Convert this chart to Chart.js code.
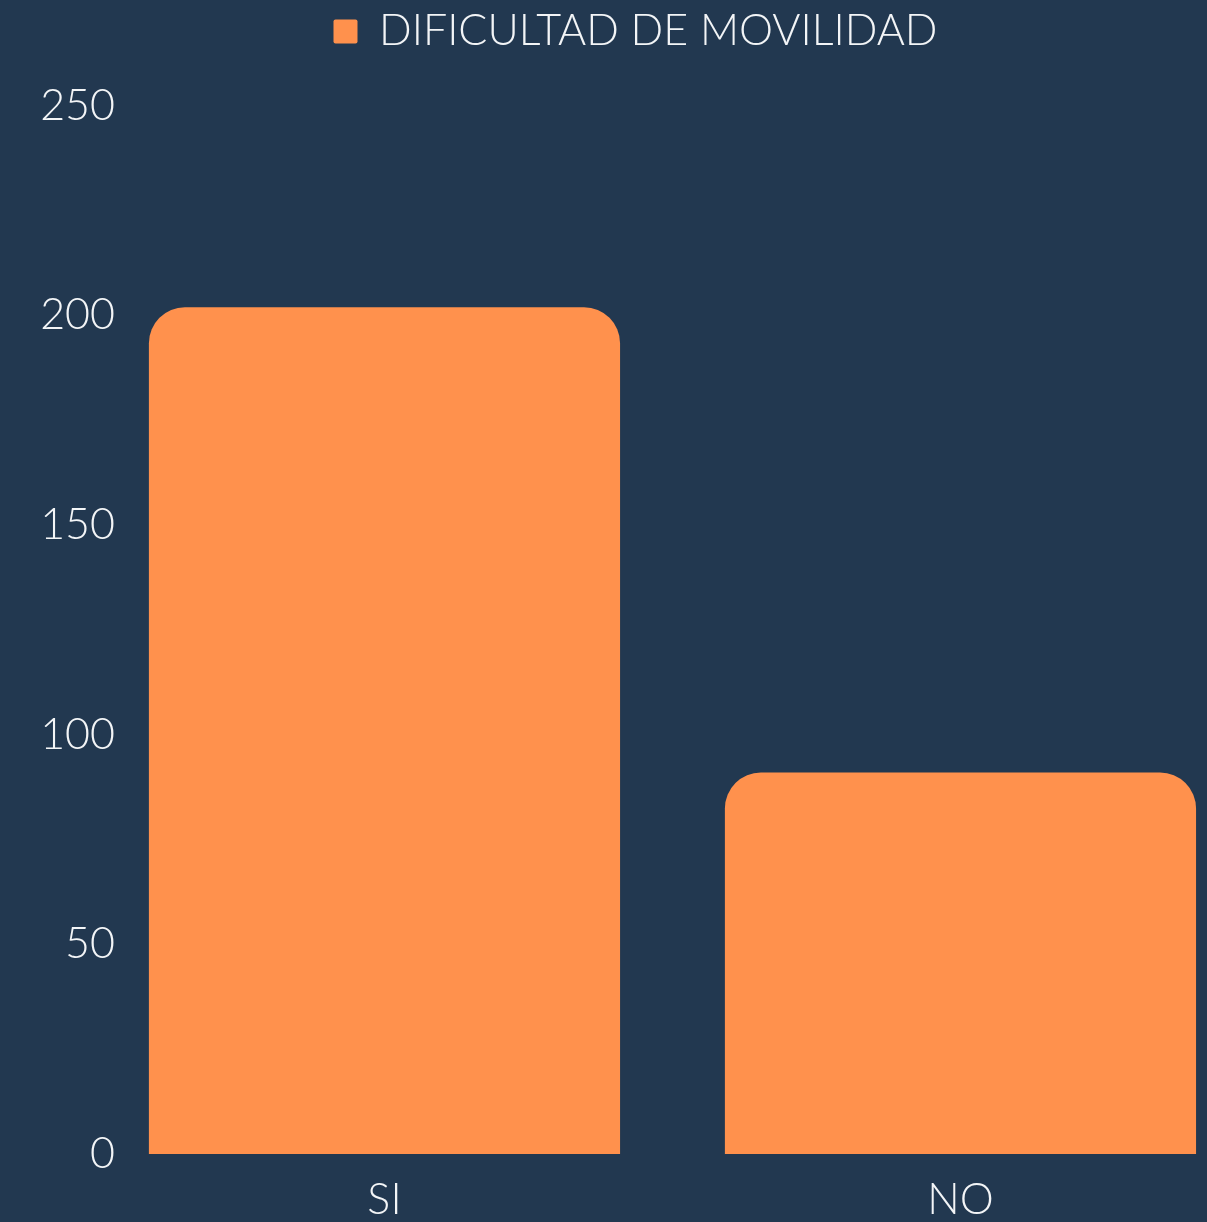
<!DOCTYPE html>
<html>
<head>
<meta charset="utf-8">
<script src="https://cdn.jsdelivr.net/npm/chart.js@4"></script>
<style>
  html, body { margin: 0; padding: 0; background: #223850; overflow: hidden; }
  #wrap { width: 1207px; height: 1222px; }
</style>
</head>
<body>
<div id="wrap"><canvas id="grafico"></canvas></div>
<script>
// datos
const categorias = ["SI", "NO"];
const valores = [202, 91];
const posiciones = [0, 1];
const ticksY = [0, 50, 100, 150, 200, 250];
const serie = "DIFICULTAD DE MOVILIDAD";

Chart.defaults.font.family = "Lato, 'Open Sans', sans-serif";
Chart.defaults.font.weight = 300;
Chart.defaults.color = "#f3f5f7";

// espacio extra debajo de la leyenda y leyenda algo a la derecha
const ajusteLeyenda = {
  id: "ajusteLeyenda",
  beforeInit(chart) {
    const fitOriginal = chart.legend.fit;
    chart.legend.fit = function () {
      fitOriginal.bind(chart.legend)();
      this.height += 43;
    };
  },
  afterLayout(chart) {
    chart.legend.left += 32;
    chart.legend.right += 32;
  }
};

new Chart(document.getElementById("grafico"), {
  type: "bar",
  data: {
    datasets: [{
      label: serie,
      data: posiciones.map((p, i) => ({ x: p, y: valores[i] })),
      backgroundColor: "#ff914d",
      borderRadius: { topLeft: 36, topRight: 36, bottomLeft: 0, bottomRight: 0 },
      borderSkipped: "start",
      barPercentage: 0.818,
      categoryPercentage: 1
    }]
  },
  options: {
    responsive: true,
    maintainAspectRatio: false,
    animation: false,
    layout: { padding: 0 },
    plugins: {
      legend: {
        position: "top",
        labels: {
          font: { size: 43 },
          boxWidth: 24,
          boxHeight: 24,
          padding: 10,
          useBorderRadius: true,
          borderRadius: 2
        }
      },
      tooltip: { enabled: false }
    },
    scales: {
      x: {
        type: "linear",
        offset: false,
        min: -0.4418,
        max: 1.428,
        grid: { display: false, drawTicks: false, offset: false },
        border: { display: false },
        afterFit: escala => { escala.height = 68; },
        afterBuildTicks: escala => {
          escala.ticks = posiciones.map(v => ({ value: v }));
        },
        ticks: {
          font: { size: 43 },
          padding: 20,
          callback: v => categorias[v]
        }
      },
      y: {
        min: 0,
        max: 250,
        grid: { display: false, drawTicks: false },
        border: { display: false },
        afterFit: escala => { escala.width = 130; },
        afterBuildTicks: escala => {
          escala.ticks = ticksY.map(v => ({ value: v }));
        },
        ticks: {
          font: { size: 43 },
          padding: 15
        }
      }
    }
  },
  plugins: [ajusteLeyenda]
});
</script>
</body>
</html>
